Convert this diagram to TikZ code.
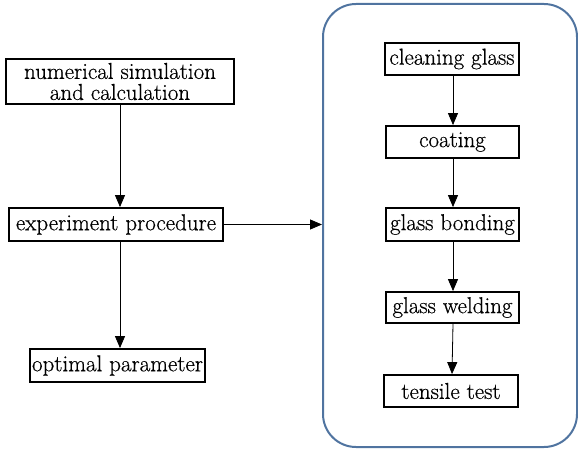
\documentclass[tikz,border=0pt]{standalone}
\usepackage{fontspec}
\setmainfont{Latin Modern Roman}[FakeBold=0.5]
\usetikzlibrary{arrows.meta,calc}
\definecolor{frameblue}{RGB}{80,116,160}
\begin{document}
\begin{tikzpicture}[x=1pt,y=-1pt,
  stepbox/.style={draw=black,line width=1.8pt,fill=white,inner sep=0pt,align=center,
    font=\fontsize{23}{21}\selectfont},
  arr/.style={draw=black,line width=0.8pt,-{Triangle[length=12pt,width=10pt]}},
  frame/.style={draw=frameblue,line width=2pt,rounded corners=33pt,inner sep=0pt}]
\path[use as bounding box] (0,0) rectangle (578,449);
\node[frame,minimum width=254pt,minimum height=443pt] (box) at (450,225.5) {};
\node[stepbox,minimum width=228pt,minimum height=45pt] (sim) at (120,81.5) {numerical simulation\\and calculation};
\node[stepbox,minimum width=214pt,minimum height=33pt] (exp) at (116,224.5) {experiment procedure};
\node[stepbox,minimum width=175pt,minimum height=33pt] (opt) at (117.5,365.5) {optimal parameter};
\node[stepbox,minimum width=134pt,minimum height=32pt] (clean) at (452,59) {cleaning glass};
\node[stepbox,minimum width=133pt,minimum height=32pt] (coat) at (452.5,142) {coating};
\node[stepbox,minimum width=133pt,minimum height=33pt] (bond) at (452.5,224.5) {glass bonding};
\node[stepbox,minimum width=133pt,minimum height=31pt] (weld) at (452.5,307.5) {glass welding};
\node[stepbox,minimum width=134pt,minimum height=32pt] (tens) at (451,391) {tensile test};
\draw[arr] (sim.south) -- (sim.south |- exp.north);
\draw[arr] (sim.south |- exp.south) -- (sim.south |- opt.north);
\draw[arr] (exp.east) -- (exp.east -| box.west);
\draw[arr] (clean.south -| 453,0) -- (coat.north -| 453,0);
\draw[arr] (coat.south -| 453,0) -- (bond.north -| 453,0);
\draw[arr] (bond.south -| 453,0) -- (weld.north -| 453,0);
\draw[arr] (weld.south -| 453,0) -- (tens.north -| 452,0);
\end{tikzpicture}
\end{document}
